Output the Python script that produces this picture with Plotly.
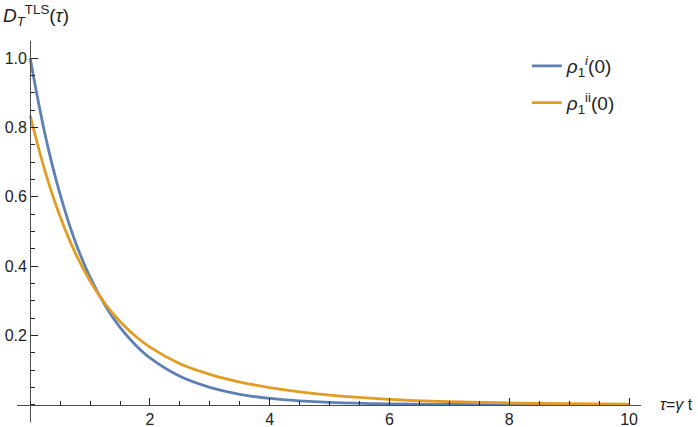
import plotly.graph_objects as go

# values
tau = [0, 0.25, 0.5, 0.75, 1, 1.25, 1.5, 1.75, 2, 2.5, 3, 3.5, 4, 4.5, 5, 6, 7, 8, 9, 10]
d_i = [1.0, 0.779, 0.607, 0.472, 0.368, 0.287, 0.223, 0.174, 0.135, 0.082, 0.050,
       0.030, 0.018, 0.011, 0.0067, 0.0025, 0.0009, 0.0003, 0.0001, 0.0]
d_ii = [0.835, 0.673, 0.543, 0.439, 0.357, 0.292, 0.240, 0.199, 0.166, 0.118, 0.0874,
        0.0654, 0.0494, 0.0371, 0.0279, 0.0156, 0.0087, 0.0049, 0.0027, 0.0015]

x_ticks = [2, 4, 6, 8, 10]
y_ticks = [0.2, 0.4, 0.6, 0.8, 1.0]
x_range = [-0.22, 10.2]
y_range = [-0.05, 1.05]

blue = "rgb(94,129,181)"
orange = "rgb(225,156,36)"
axis_col = "#4d4d4d"
font = "Liberation Sans, Arial, sans-serif"

fig = go.Figure()
fig.add_trace(go.Scatter(x=tau, y=d_i, mode="lines", line=dict(color=blue, width=2.8, shape="spline"),
                         name="<i>ρ</i><sub>1</sub><sup><i>i</i></sup>(0)", legendgroup="a"))
fig.add_trace(go.Scatter(x=tau, y=d_ii, mode="lines", line=dict(color=orange, width=2.8, shape="spline"),
                         name="<i>ρ</i><sub>1</sub><sup>ii</sup>(0)", legendgroup="b"))

# axes cross at the origin
ypos = (0 - x_range[0]) / (x_range[1] - x_range[0])
xpos = (0 - y_range[0]) / (y_range[1] - y_range[0])

fig.update_xaxes(range=x_range, anchor="free", position=xpos, automargin=False,
                 showgrid=False, zeroline=False,
                 showline=True, linecolor=axis_col, linewidth=1,
                 tickmode="array", tickvals=x_ticks, ticktext=[str(v) for v in x_ticks],
                 ticks="inside", ticklen=7, tickcolor="#222", tickwidth=1,
                 minor=dict(dtick=0.5, tick0=0, ticks="inside", ticklen=4, tickcolor="#222"),
                 tickfont=dict(family=font, size=16, color="#222"))
fig.update_yaxes(range=y_range, anchor="free", position=ypos, automargin=False,
                 showgrid=False, zeroline=False,
                 showline=True, linecolor=axis_col, linewidth=1,
                 tickmode="array", tickvals=y_ticks, ticktext=["%.1f" % v for v in y_ticks],
                 ticks="inside", ticklen=7, tickcolor="#222", tickwidth=1,
                 minor=dict(dtick=0.05, tick0=0, ticks="inside", ticklen=4, tickcolor="#222"),
                 tickfont=dict(family=font, size=16, color="#222"))

fig.add_annotation(text="<i>D</i><sub><i>T</i></sub><sup>TLS</sup>(<i>τ</i>)", xref="paper", yref="paper",
                   x=-0.025, y=1.107, xanchor="left", yanchor="top", showarrow=False,
                   font=dict(family=font, size=19, color="#222"))
fig.add_annotation(text="<i>τ</i>=<i>γ</i> t", xref="paper", yref="paper",
                   x=1.028, y=xpos, xanchor="left", yanchor="middle", showarrow=False,
                   font=dict(family=font, size=16, color="#222"))

fig.update_layout(
    width=698, height=427,
    margin=dict(l=17, r=57, t=41, b=5),
    plot_bgcolor="white", paper_bgcolor="white",
    font=dict(family=font, size=16, color="#222"),
    legend=dict(x=0.817, y=0.984, xanchor="left", yanchor="top", tracegroupgap=9,
                font=dict(family=font, size=19, color="#222"), bgcolor="rgba(0,0,0,0)"),
)

# drop the default page margin so the figure sits at the window's corner
fig.write_html("out.html", config={"displayModeBar": False},
               post_script="document.body.style.margin='0';")
